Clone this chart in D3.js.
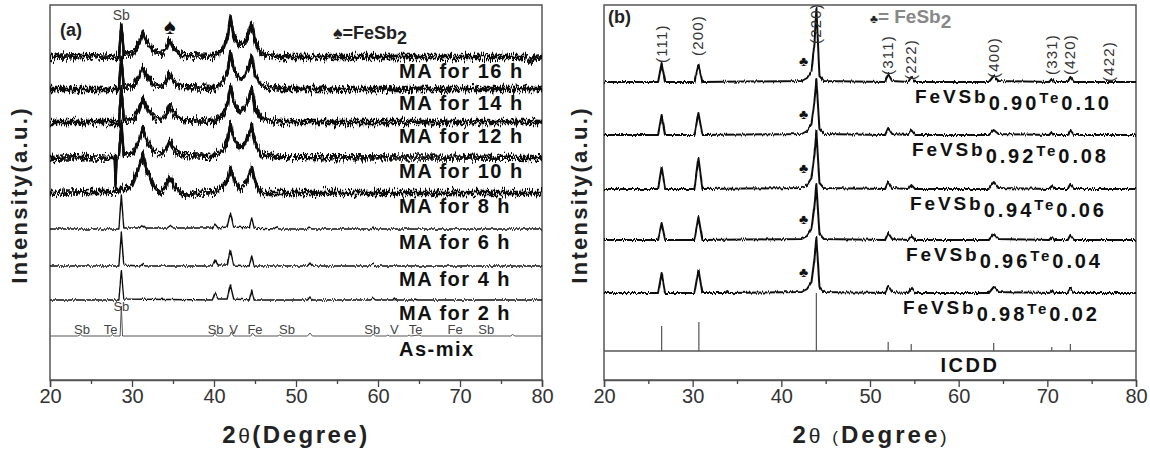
<!DOCTYPE html>
<meta charset="utf-8">
<script src="https://d3js.org/d3.v7.min.js"></script>
<style>
  body { margin: 0; background: #fff; }
  text { font-family: "Liberation Sans", Arial, sans-serif; }
</style>
<div id="chart"></div>
<script>
  // ---------- data (2theta in degrees, intensity in a.u.) ----------
  const angleTicks = [20, 30, 40, 50, 60, 70, 80];
  const minorTicks = [25, 35, 45, 55, 65, 75];

  // panel (a): milling time series, top to bottom
  const labelsA = ["MA for 16 h", "MA for 14 h", "MA for 12 h", "MA for 10 h", "MA for 8 h",
    "MA for 6 h", "MA for 4 h", "MA for 2 h", "As-mix"];
  const offsetsA = [322, 290, 257, 222, 187, 151, 114, 80, 44];

  const ma16 = [[20, 1], [24, 2], [28.4, 1], [28.7, 33], [29.0, 3], [30.2, 5], [30.9, 15], [31.3, 26], [31.8, 16], [32.6, 7], [33.6, 5], [34.2, 10], [34.6, 19], [35.1, 10], [36.2, 3], [40, 2], [41.1, 9], [41.7, 22], [42.0, 41], [42.4, 22], [43.1, 12], [43.7, 15], [44.3, 26], [44.6, 35], [45.0, 17], [45.7, 5], [48, 1], [60, 1], [78, 1], [78.6, -4], [79.2, 0], [80, 1]];
  const ma14 = [[20, 1], [24, 1], [28.4, 1], [28.7, 33], [29.0, 3], [30.2, 4], [30.9, 13], [31.3, 23], [31.8, 14], [32.6, 6], [33.6, 4], [34.2, 9], [34.6, 16], [35.1, 9], [36.2, 3], [40, 2], [41.1, 8], [41.7, 20], [42.0, 38], [42.4, 21], [43.1, 11], [43.7, 14], [44.3, 24], [44.6, 33], [45.0, 16], [45.7, 5], [48, 1], [80, 1]];
  const ma12 = [[20, 1], [24, 1], [28.4, 1], [28.7, 34], [29.0, 3], [30.2, 4], [30.9, 14], [31.3, 24], [31.8, 15], [32.6, 6], [33.6, 4], [34.2, 9], [34.6, 17], [35.1, 9], [36.2, 3], [40, 2], [41.1, 8], [41.7, 20], [42.0, 37], [42.4, 21], [43.1, 11], [43.7, 15], [44.3, 25], [44.6, 35], [45.0, 16], [45.7, 5], [48, 1], [80, 1]];
  const ma10 = [[20, 0], [24, 1], [27.9, 0], [28.0, -28], [28.1, 0], [28.4, 1], [28.7, 35], [29.0, 3], [30.2, 6], [30.9, 18], [31.3, 30], [31.8, 18], [32.6, 7], [33.6, 4], [34.2, 9], [34.6, 17], [35.1, 9], [36.2, 3], [40, 2], [41.1, 8], [41.7, 19], [42.0, 35], [42.4, 20], [43.1, 10], [43.7, 14], [44.3, 24], [44.6, 33], [45.0, 15], [45.7, 4], [48, 1], [80, 0]];
  const ma8 = [[20, 0], [25, 1], [28.4, 1], [28.7, 6], [29.0, 2], [30.0, 8], [30.8, 25], [31.3, 38], [31.8, 22], [32.6, 8], [33.4, 0], [34.1, 7], [34.6, 16], [35.2, 6], [36.2, -2], [38, 0], [40, 1], [41.1, 6], [41.7, 14], [42.0, 25], [42.5, 12], [43.2, 4], [43.9, 10], [44.3, 18], [44.6, 26], [45.1, 10], [45.8, 0], [48, 0], [80, 0]];
  const ma6 = [[20, 0], [28.4, 0], [28.7, 34], [29.0, 1], [30.9, 1], [31.3, 4], [31.7, 1], [34.3, 1], [34.6, 3], [34.9, 1], [39.8, 1], [40.1, 5], [40.5, 1], [41.6, 2], [42.0, 16], [42.4, 2], [44.3, 1], [44.6, 11], [44.9, 1], [47.3, 0], [47.6, 2], [47.9, 0], [51.3, 0], [51.6, 2], [51.9, 0], [59.1, 0], [59.4, 2], [59.7, 0], [80, 0]];
  const ma4 = [[20, 0], [28.4, 0], [28.7, 33], [29.0, 1], [31.0, 0], [31.3, 2], [31.6, 0], [39.8, 0], [40.1, 6], [40.5, 1], [41.6, 1], [42.0, 16], [42.4, 1], [44.3, 0], [44.6, 10], [44.9, 0], [51.4, 0], [51.7, 3], [52.0, 0], [59.1, 0], [59.4, 2], [59.7, 0], [80, 0]];
  const ma2 = [[20, 0], [28.4, 0], [28.7, 30], [29.0, 1], [39.8, 0], [40.1, 7], [40.5, 1], [41.6, 1], [42.0, 15], [42.4, 1], [44.3, 0], [44.6, 10], [44.9, 0], [51.4, 0], [51.7, 3], [52.0, 0], [59.1, 0], [59.4, 2], [59.7, 0], [61.8, 0], [62.0, 2], [62.2, 0], [64.3, 0], [64.5, 1], [64.8, 0], [80, 0]];
  const asMix = [[20, 0], [23.4, 0], [23.7, 1.5], [24.0, 0], [27.4, 0], [27.6, 1.5], [27.8, 0], [28.55, 0], [28.7, 30], [28.85, 0], [39.9, 0], [40.1, 3], [40.4, 0], [41.9, 0], [42.1, 4], [42.4, 0], [44.5, 0], [44.7, 3], [45.0, 0], [47.8, 0], [48.0, 1], [48.3, 0], [51.4, 0], [51.7, 3], [52.0, 0], [59.2, 0], [59.4, 2], [59.7, 0], [61.0, 0], [61.2, 1], [61.4, 0], [63.6, 0], [63.8, 1], [64.0, 0], [65.0, 1], [65.3, 0], [76.2, 0], [76.4, 1.5], [76.7, 0], [80, 0]];
  const seriesA = [ma16, ma14, ma12, ma10, ma8, ma6, ma4, ma2, asMix];

  // phase marks on the as-mix pattern
  const phaseNames = ["Sb", "Te", "Sb", "Sb", "V", "Fe", "Sb", "Sb", "V", "Te", "Fe", "Sb"];
  const phaseAngles = [23.9, 27.4, 28.7, 40.2, 42.4, 45.0, 48.9, 59.3, 62.0, 64.6, 69.4, 73.2];

  // panel (b): FeVSb(1-x)Te(x), top to bottom
  const sbFrac = ["0.90", "0.92", "0.94", "0.96", "0.98"];
  const teFrac = ["0.10", "0.08", "0.06", "0.04", "0.02"];
  const offsetsB = [298, 245, 191, 140, 87];

  const te10 = [[20, 0], [26.1, 0], [26.5, 19], [26.9, 0], [30.2, 0], [30.65, 17], [31.1, 0], [42.3, 1], [42.9, 4], [43.4, 11], [43.75, 40], [43.95, 74], [44.3, 6], [44.8, 1], [51.7, 0], [52.05, 8], [52.5, 1], [54.3, 0], [54.65, 5], [55.1, 0], [63.4, 0], [63.95, 6], [64.5, 1], [70.2, 0], [70.5, 3], [70.8, 0], [72.3, 0], [72.6, 5], [73.0, 0], [80, 0]];
  const te08 = [[20, 0], [26.1, 0], [26.5, 20], [26.9, 0], [30.2, 0], [30.65, 22], [31.1, 0], [42.3, 1], [42.9, 4], [43.4, 11], [43.75, 35], [43.95, 56], [44.3, 6], [44.8, 1], [51.7, 0], [52.05, 7], [52.5, 1], [54.3, 0], [54.65, 5], [55.1, 0], [63.4, 0], [63.95, 5], [64.5, 1], [70.2, 0], [70.5, 3], [70.8, 0], [72.3, 0], [72.6, 5], [73.0, 0], [80, 0]];
  const te06 = [[20, 0], [26.1, 0], [26.5, 22], [26.9, 0], [30.2, 0], [30.65, 31], [31.1, 0], [42.3, 1], [42.9, 4], [43.4, 11], [43.75, 36], [43.95, 58], [44.3, 6], [44.8, 1], [51.7, 0], [52.05, 7], [52.5, 1], [54.3, 0], [54.65, 4], [55.1, 0], [63.4, 0], [63.95, 7], [64.5, 1], [70.2, 0], [70.5, 3], [70.8, 0], [72.3, 0], [72.6, 5], [73.0, 0], [80, 0]];
  const te04 = [[20, 0], [26.1, 0], [26.5, 17], [26.9, 0], [30.2, 0], [30.65, 23], [31.1, 0], [42.3, 1], [42.9, 4], [43.4, 11], [43.75, 35], [43.95, 56], [44.3, 6], [44.8, 1], [51.7, 0], [52.05, 7], [52.5, 1], [54.3, 0], [54.65, 4], [55.1, 0], [63.4, 0], [63.95, 6], [64.5, 1], [70.2, 0], [70.5, 3], [70.8, 0], [72.3, 0], [72.6, 5], [73.0, 0], [80, 0]];
  const te02 = [[20, 0], [26.1, 0], [26.5, 20], [26.9, 0], [30.2, 0], [30.65, 23], [31.1, 0], [33.7, 0], [33.9, 2], [34.1, 0], [42.3, 1], [42.9, 4], [43.4, 11], [43.75, 35], [43.95, 56], [44.3, 6], [44.8, 1], [51.7, 0], [52.05, 7], [52.5, 1], [54.3, 0], [54.65, 5], [55.1, 0], [63.4, 0], [63.95, 6], [64.5, 1], [70.2, 0], [70.5, 3], [70.8, 0], [72.3, 0], [72.6, 5], [73.0, 0], [80, 0]];
  const seriesB = [te10, te08, te06, te04, te02];

  // reflections and ICDD reference sticks
  const millerIdx = ["(111)", "(200)", "(220)", "(311)", "(222)", "(400)", "(331)", "(420)", "(422)"];
  const millerAngles = [26.5, 30.65, 43.95, 52.05, 54.65, 63.95, 70.5, 72.6, 76.9];
  const icddAngles = [26.5, 30.7, 43.95, 52.05, 54.65, 63.95, 70.5, 72.6];
  const icddHeights = [25, 29, 58, 9, 7, 8, 4, 7];
  const icddOffset = 29;
  const fesb2Angle = 42.5;

  // ---------- layout ----------
  const W = 1150, H = 449;
  const plotTop = 5, plotBottom = 380;
  const svg = d3.select("#chart").append("svg")
    .attr("width", W).attr("height", H);

  // rough texture for the noisy patterns (vertical jitter only)
  const defs = svg.append("defs");
  function roughFilter(id, scale, seed, freq) {
    const f = defs.append("filter").attr("id", id)
      .attr("filterUnits", "userSpaceOnUse")
      .attr("x", 0).attr("y", 0).attr("width", W).attr("height", H);
    f.append("feTurbulence").attr("type", "fractalNoise")
      .attr("baseFrequency", freq).attr("numOctaves", 2).attr("seed", seed).attr("result", "n");
    f.append("feColorMatrix").attr("in", "n").attr("type", "matrix")
      .attr("values", "0 0 0 0 0.5  0 1 0 0 0  0 0 1 0 0  0 0 0 1 0").attr("result", "n2");
    f.append("feDisplacementMap").attr("in", "SourceGraphic").attr("in2", "n2")
      .attr("scale", scale).attr("xChannelSelector", "R").attr("yChannelSelector", "G");
  }
  roughFilter("roughA", 18, 4, "1.1 0.06");
  roughFilter("roughB", 18, 11, "1.1 0.06");
  roughFilter("roughC", 12, 23, "0.8 0.1");
  roughFilter("rough2", 4, 7, "0.9 0.05");
  roughFilter("rough3", 2.5, 9, "0.9 0.05");

  const y = d3.scaleLinear().domain([0, 375]).range([plotBottom, plotTop]);
  const xa = d3.scaleLinear().domain([20, 80]).range([50, 542]);
  const xb = d3.scaleLinear().domain([20, 80]).range([604, 1136]);

  function frame(x) {
    svg.append("rect")
      .attr("x", x.range()[0]).attr("y", plotTop)
      .attr("width", x.range()[1] - x.range()[0]).attr("height", plotBottom - plotTop)
      .attr("fill", "none").attr("stroke", "#555").attr("stroke-width", 1.5);
    const ax = svg.append("g").attr("transform", `translate(0,${plotBottom})`)
      .call(d3.axisBottom(x).tickValues(angleTicks).tickSize(7).tickPadding(2));
    ax.select(".domain").attr("stroke", "#555").attr("stroke-width", 1.5);
    ax.selectAll(".tick line").attr("stroke", "#444").attr("stroke-width", 1.3);
    ax.selectAll(".tick text").attr("fill", "#333")
      .style("font-size", "20px").style("font-family", "Liberation Sans, Arial, sans-serif");
    const mn = svg.append("g").attr("transform", `translate(0,${plotBottom})`)
      .call(d3.axisBottom(x).tickValues(minorTicks).tickSize(4).tickFormat(""));
    mn.select(".domain").remove();
    mn.selectAll(".tick line").attr("stroke", "#444").attr("stroke-width", 1.3);
  }
  frame(xa);
  frame(xb);

  // ---------- panel (a) ----------
  const lineA = d3.line().x(d => xa(d[0]));
  seriesA.forEach(function (s, i) {
    const noisy = i <= 4;
    const d = lineA.y(p => y(offsetsA[i] + p[1]))(s);
    const passes = noisy ? ["roughA", "roughB", "roughC"] : [i === 8 ? "rough3" : "rough2"];
    passes.forEach(function (fid) {
      svg.append("path")
        .attr("fill", "none")
        .attr("stroke", i === 8 ? "#555" : "#111")
        .attr("stroke-width", noisy ? 2.3 : (i === 8 ? 1 : 1.4))
        .attr("stroke-linejoin", "round")
        .attr("filter", noisy || i < 8 ? `url(#${fid})` : null)
        .attr("d", d);
    });
    svg.append("text")
      .attr("x", 399).attr("y", y(offsetsA[i]) + 20)
      .attr("font-size", 20).attr("font-weight", "bold")
      .attr("letter-spacing", 1.5).attr("fill", "#111")
      .text(labelsA[i]);
  });

  // phase labels on as-mix and the Sb line at top
  phaseNames.forEach(function (p, i) {
    const big = phaseAngles[i] === 28.7;
    svg.append("text")
      .attr("x", xa(phaseAngles[i])).attr("y", big ? 311 : y(offsetsA[8]) - 2)
      .attr("text-anchor", "middle").attr("font-size", 13).attr("fill", "#444")
      .text(p);
  });
  svg.append("text").attr("x", xa(28.7)).attr("y", 20)
    .attr("text-anchor", "middle").attr("font-size", 14).attr("fill", "#444").text("Sb");
  svg.append("text").attr("x", xa(34.6)).attr("y", 34)
    .attr("text-anchor", "middle").attr("font-size", 22).attr("fill", "#111").text("\u2660");
  svg.append("text").attr("x", 60).attr("y", 36)
    .attr("font-size", 18).attr("font-weight", "bold").attr("fill", "#222").text("(a)");
  const spadeKey = svg.append("text").attr("x", 333).attr("y", 39)
    .attr("font-size", 18).attr("font-weight", "bold").attr("fill", "#222");
  spadeKey.append("tspan").text("\u2660=FeSb");
  spadeKey.append("tspan").attr("dy", 5).text("2");

  // ---------- panel (b) ----------
  const lineB = d3.line().x(d => xb(d[0]));
  const labelXB = [915, 912, 910, 906, 903];
  seriesB.forEach(function (s, i) {
    svg.append("path")
      .attr("fill", "none").attr("stroke", "#111").attr("stroke-width", 2)
      .attr("stroke-linejoin", "round")
      .attr("filter", "url(#rough2)")
      .attr("d", lineB.y(d => y(offsetsB[i] + d[1]))(s));
    svg.append("text").attr("x", xb(fesb2Angle)).attr("y", y(offsetsB[i]) - 16)
      .attr("text-anchor", "middle").attr("font-size", 14).attr("fill", "#111").text("\u2663");
    const t = svg.append("text").attr("x", labelXB[i]).attr("y", y(offsetsB[i]) + 21)
      .attr("font-weight", "bold").attr("fill", "#111").attr("letter-spacing", 2.9);
    t.append("tspan").attr("font-size", 19).text("FeVSb");
    t.append("tspan").attr("font-size", 20).attr("dy", 7).text(sbFrac[i]);
    t.append("tspan").attr("font-size", 15).attr("dy", -7).text("Te");
    t.append("tspan").attr("font-size", 20).attr("dy", 7).text(teFrac[i]);
  });

  // ICDD reference
  svg.append("line")
    .attr("x1", xb(20)).attr("x2", xb(80))
    .attr("y1", y(icddOffset)).attr("y2", y(icddOffset))
    .attr("stroke", "#555").attr("stroke-width", 1.3);
  svg.selectAll(".icdd").data(icddAngles).join("line")
    .attr("class", "icdd")
    .attr("x1", d => xb(d)).attr("x2", d => xb(d))
    .attr("y1", y(icddOffset)).attr("y2", (d, i) => y(icddOffset + icddHeights[i]))
    .attr("stroke", "#555").attr("stroke-width", 1.2);
  svg.append("text").attr("x", 970).attr("y", 372)
    .attr("text-anchor", "middle").attr("font-size", 20).attr("font-weight", "bold")
    .attr("letter-spacing", 2.5).attr("fill", "#111").text("ICDD");

  // Miller indices, rotated
  const millerBottom = [63, 56, 44, 75, 80, 78, 75, 75, 82];
  millerIdx.forEach(function (m, i) {
    const xx = xb(millerAngles[i]) + 5;
    svg.append("text")
      .attr("transform", `translate(${xx},${millerBottom[i]}) rotate(-90)`)
      .attr("font-size", 15).attr("letter-spacing", 1.2).attr("fill", "#333")
      .text(m);
  });

  svg.append("text").attr("x", 608).attr("y", 23)
    .attr("font-size", 18).attr("font-weight", "bold").attr("fill", "#222").text("(b)");
  const clubKey = svg.append("text").attr("x", 870).attr("y", 23)
    .attr("font-weight", "bold").attr("fill", "#888");
  clubKey.append("tspan").attr("font-size", 12).attr("fill", "#222").text("\u2663");
  clubKey.append("tspan").attr("font-size", 19).text("= FeSb");
  clubKey.append("tspan").attr("font-size", 19).attr("dy", 5).text("2");

  // ---------- axis titles ----------
  [[19, 195], [579, 195]].forEach(function (p) {
    svg.append("text")
      .attr("transform", `translate(${p[0]},${p[1]}) rotate(-90)`)
      .attr("text-anchor", "middle").attr("dy", "0.35em")
      .attr("font-size", 22).attr("font-weight", "bold").attr("fill", "#222")
      .attr("letter-spacing", 2.3)
      .text("Intensity(a.u.)");
  });
  const xt1 = svg.append("text").attr("x", 296).attr("y", 443)
    .attr("text-anchor", "middle").attr("font-size", 24).attr("font-weight", "bold")
    .attr("letter-spacing", 2.5).attr("fill", "#222");
  xt1.append("tspan").text("2");
  xt1.append("tspan").attr("font-weight", "normal").attr("font-size", 21).text("\u03b8");
  xt1.append("tspan").text("(Degree)");
  const xt2 = svg.append("text").attr("x", 871).attr("y", 443)
    .attr("text-anchor", "middle").attr("font-size", 24).attr("font-weight", "bold")
    .attr("letter-spacing", 3).attr("fill", "#222");
  xt2.append("tspan").text("2");
  xt2.append("tspan").attr("font-weight", "normal").attr("font-size", 21).text("\u03b8 ");
  xt2.append("tspan").attr("font-weight", "normal").attr("font-size", 17).text("(");
  xt2.append("tspan").text("Degree");
  xt2.append("tspan").attr("font-weight", "normal").attr("font-size", 19).text(")");
</script>
